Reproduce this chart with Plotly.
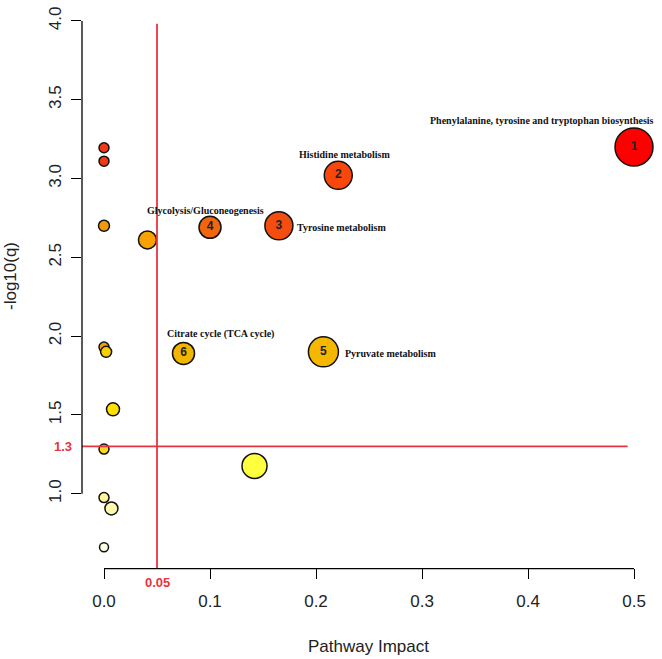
import plotly.graph_objects as go

# ---------------- data ----------------
pathway_impact = [0.0, 0.0, 0.0, 0.041, 0.0, 0.002, 0.0085, 0.0, 0.142, 0.0, 0.007, 0.0,
                  0.075, 0.207, 0.100, 0.165, 0.221, 0.5]
neg_log10_q = [3.195, 3.11, 2.70, 2.61, 1.93, 1.90, 1.535, 1.283, 1.176, 0.975, 0.906, 0.66,
               1.89, 1.90, 2.69, 2.70, 3.02, 3.20]
point_numbers = ["", "", "", "", "", "", "", "", "", "", "", "",
                 "6", "5", "4", "3", "2", "1"]

label_names = ["Phenylalanine, tyrosine and tryptophan biosynthesis", "Histidine metabolism",
               "Tyrosine metabolism", "Glycolysis/Gluconeogenesis", "Pyruvate metabolism",
               "Citrate cycle (TCA cycle)"]
label_x = [0.413, 0.2274, 0.180, 0.0962, 0.2255, 0.110]
label_y = [3.367, 3.151, 2.69, 2.80, 1.889, 2.0145]
label_anchor = ["center", "center", "left", "center", "left", "center"]

impact_threshold = 0.05
q_threshold = 1.3

x_ticks = [0.0, 0.1, 0.2, 0.3, 0.4, 0.5]
y_ticks = [1.0, 1.5, 2.0, 2.5, 3.0, 3.5, 4.0]

# ---------------- styles ----------------
marker_sizes = [10, 10, 11, 18, 10, 11, 13, 10, 25, 10, 13, 9,
                22, 30, 22, 28, 28, 38]
marker_colors = ["#F03A14", "#F03A14", "#F59A0B", "#F7A200", "#F0A000", "#F8D000", "#FFE100",
                 "#FFD820", "#FFFF40", "#FFF59A", "#FFF9B0", "#FFFFE8",
                 "#F2B500", "#F5B700", "#F0660F", "#F44D10", "#F9470B", "#FF0000"]
RED = "#E8333F"

X_RANGE = [-0.02075, 0.5198]
Y_RANGE = [0.5283, 4.0377]


def xpaper(v):
    return (v - X_RANGE[0]) / (X_RANGE[1] - X_RANGE[0])


def ypaper(v):
    return (v - Y_RANGE[0]) / (Y_RANGE[1] - Y_RANGE[0])


fig = go.Figure()
fig.add_trace(go.Scatter(
    x=pathway_impact, y=neg_log10_q, mode="markers+text",
    text=point_numbers, textposition="middle center",
    textfont=dict(family="Liberation Sans", size=12, color="#222222", weight="bold"),
    marker=dict(size=marker_sizes, color=marker_colors, opacity=1,
                line=dict(color="#111111", width=1.5)),
    cliponaxis=False, showlegend=False, hoverinfo="x+y"))

# threshold lines
fig.add_shape(type="line", xref="x", yref="y", x0=-0.0274, x1=0.494, y0=q_threshold, y1=q_threshold,
              line=dict(color=RED, width=1.8))
fig.add_shape(type="line", xref="x", yref="paper", x0=impact_threshold, x1=impact_threshold, y0=0, y1=0.984,
              line=dict(color=RED, width=1.8))

# R-style axis lines spanning only the tick range
fig.add_shape(type="path", xref="paper", yref="paper", layer="above",
              path="M {:.5f},{:.5f} L {:.5f},{:.5f}".format(xpaper(x_ticks[0]), -0.001,
                                                          xpaper(x_ticks[-1]), -0.001),
              line=dict(color="black", width=1.3))
fig.add_shape(type="line", xref="paper", yref="paper", x0=0, x1=0,
              y0=ypaper(y_ticks[0]), y1=ypaper(y_ticks[-1]), line=dict(color="black", width=1.3))

annotations = []
for name, lx, ly, anc in zip(label_names, label_x, label_y, label_anchor):
    annotations.append(dict(x=lx, y=ly, xref="x", yref="y", text=name, showarrow=False,
                            xanchor=anc, yanchor="middle",
                            font=dict(family="Liberation Serif", size=10, color="#111111", weight="bold")))
annotations.append(dict(x=-0.034, y=ypaper(q_threshold), xref="paper", yref="paper", text=str(q_threshold),
                        showarrow=False, xanchor="center", yanchor="middle",
                        font=dict(family="Liberation Sans", size=13, color=RED, weight="bold")))
annotations.append(dict(x=impact_threshold, y=-0.027, xref="x", yref="paper", text=str(impact_threshold),
                        showarrow=False, xanchor="center", yanchor="middle",
                        font=dict(family="Liberation Sans", size=13, color=RED, weight="bold")))
annotations.append(dict(x=-0.125, y=0.5287, xref="paper", yref="paper", text="-log10(q)", showarrow=False,
                        textangle=-90, xanchor="center", yanchor="middle",
                        font=dict(family="Liberation Sans", size=17, color="#222222")))

fig.update_layout(
    width=662, height=659,
    margin=dict(l=82, r=7, t=10, b=91),
    paper_bgcolor="white", plot_bgcolor="white",
    annotations=annotations,
    font=dict(family="Liberation Sans", color="#222222"),
    xaxis=dict(range=X_RANGE, tickvals=x_ticks, tickformat=".1f",
               showgrid=False, zeroline=False, showline=False,
               ticks="outside", ticklen=10, tickwidth=1.3, tickcolor="black",
               ticklabelstandoff=8, tickfont=dict(size=17, color="#222222"),
               title=dict(text="Pathway Impact", font=dict(size=17, color="#222222"), standoff=29)),
    yaxis=dict(range=Y_RANGE, tickvals=y_ticks, tickformat=".1f", tickangle=-90,
               showgrid=False, zeroline=False, showline=False,
               ticks="outside", ticklen=10, tickwidth=1.3, tickcolor="black",
               ticklabelstandoff=3, tickfont=dict(size=17, color="#222222")),
)

fig.write_html("out.html")
